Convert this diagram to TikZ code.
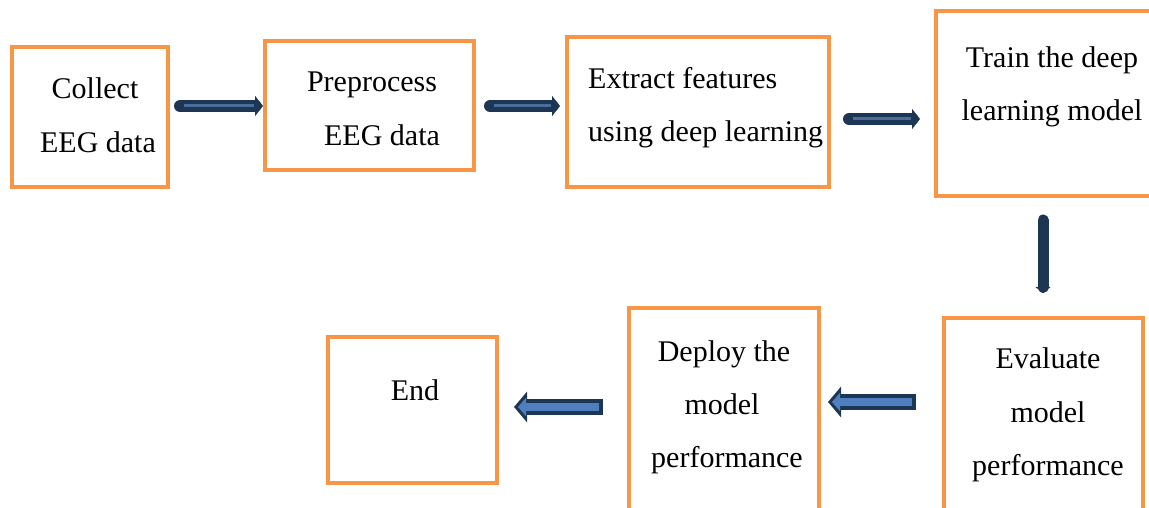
\documentclass[tikz,border=0pt]{standalone}
\usepackage{fontspec}
\setmainfont{Liberation Serif}
\usetikzlibrary{arrows.meta}
\definecolor{boxorange}{HTML}{F79646}
\definecolor{navy}{HTML}{1D3654}
\definecolor{shaftblue}{HTML}{4A6E9B}
\definecolor{fillblue}{HTML}{4F7FBF}
\tikzset{
  stepbox/.style={draw=boxorange, line width=4pt, rectangle, inner sep=0pt, fill=white},
  lbl/.style={font=\fontsize{30}{36}\selectfont, inner sep=0pt, anchor=base},
  topouter/.style={draw=navy, line width=12pt, line cap=round, -{Triangle[length=8pt,width=20pt]}},
  topinner/.style={draw=shaftblue, line width=3pt, shorten <=4pt, shorten >=9pt},
  downarrow/.style={draw=navy, line width=11pt, line cap=round, -{Triangle[length=6pt,width=15pt]}},
  botouter/.style={draw=navy, line width=16pt, line join=round, -{Triangle[length=13pt,width=30pt]}},
  botinner/.style={draw=fillblue, line width=8pt, -{Triangle[length=8pt,width=18pt]}},
}
\begin{document}
\begin{tikzpicture}[x=1pt,y=1pt]
\useasboundingbox (0,0) rectangle (1149,508);
\fill[white] (0,0) rectangle (1149,508);
\clip (0,0) rectangle (1149,508);

% boxes
\node[stepbox, minimum width=156pt, minimum height=140pt] (b1) at (90,391) {};
\node[stepbox, minimum width=209pt, minimum height=129pt] (b2) at (369.5,402.5) {};
\node[stepbox, minimum width=262pt, minimum height=150pt] (b3) at (698,396) {};
\node[stepbox, minimum width=222pt, minimum height=185pt] (b4) at (1047,404.5) {};
\node[stepbox, minimum width=199pt, minimum height=202pt] (b5) at (1043.5,89) {};
\node[stepbox, minimum width=190pt, minimum height=212pt] (b6) at (724,94) {};
\node[stepbox, minimum width=169pt, minimum height=146pt] (b7) at (412.5,98) {};

% labels
\node[lbl] (t1a) at (95,409) {Collect};
\node[lbl] (t1b) at (98,355) {EEG data};
\node[lbl] (t2a) at (372,416) {Preprocess};
\node[lbl] (t2b) at (382,362) {EEG data};
\node[lbl, anchor=base west] (t3a) at (588,419) {Extract features};
\node[lbl, anchor=base west] (t3b) at (588,366) {using deep learning};
\node[lbl] (t4a) at (1052,440) {Train the deep};
\node[lbl] (t4b) at (1052,387) {learning model};
\node[lbl] (t5a) at (1048,139) {Evaluate};
\node[lbl] (t5b) at (1048,85) {model};
\node[lbl] (t5c) at (1048,32) {performance};
\node[lbl] (t6a) at (724,146) {Deploy the};
\node[lbl] (t6b) at (722,93) {model};
\node[lbl] (t6c) at (727,40) {performance};
\node[lbl] (t7) at (415,107) {End};

% connectors, top row
\draw[topouter, shorten <=10pt] (b1.east |- 0,402) -- (b2.west |- 0,402);
\draw[topinner, shorten <=14pt, shorten >=9pt] (b1.east |- 0,402) -- (b2.west |- 0,402);
\draw[topouter, shorten <=14pt, shorten >=5pt] (b2.east |- 0,402) -- (b3.west |- 0,402);
\draw[topinner, shorten <=18pt, shorten >=14pt] (b2.east |- 0,402) -- (b3.west |- 0,402);
\draw[topouter, shorten <=18pt, shorten >=14pt] (b3.east |- 0,389) -- (b4.west |- 0,389);
\draw[topinner, shorten <=22pt, shorten >=23pt] (b3.east |- 0,389) -- (b4.west |- 0,389);

% connector, right column
\draw[downarrow, shorten <=22pt, shorten >=23pt] (b4.south -| 1043,0) -- (b5.north -| 1043,0);

% connectors, bottom row
\draw[botouter, shorten <=26pt, shorten >=7pt] (b5.west |- 0,106) -- (b6.east |- 0,106);
\draw[botinner, shorten <=30pt, shorten >=11pt] (b5.west |- 0,106) -- (b6.east |- 0,106);
\draw[botouter, shorten <=24pt, shorten >=15pt] (b6.west |- 0,101) -- (b7.east |- 0,101);
\draw[botinner, shorten <=28pt, shorten >=19pt] (b6.west |- 0,101) -- (b7.east |- 0,101);
\end{tikzpicture}
\end{document}
